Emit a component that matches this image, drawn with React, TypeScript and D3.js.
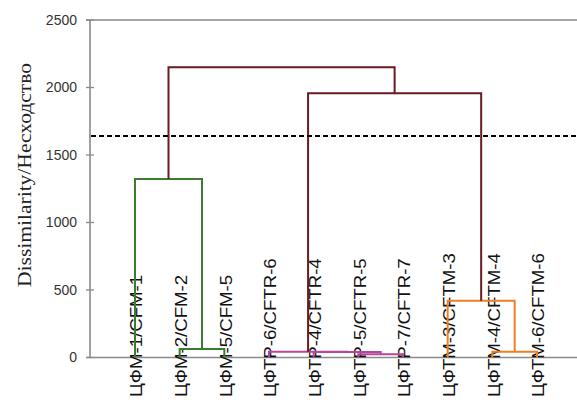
import React from "react";
import * as d3 from "d3";

const leafLabels = [
  "ЦФМ-1/CFM-1",
  "ЦФМ-2/CFM-2",
  "ЦФМ-5/CFM-5",
  "ЦФТР-6/CFTR-6",
  "ЦФТР-4/CFTR-4",
  "ЦФТР-5/CFTR-5",
  "ЦФТР-7/CFTR-7",
  "ЦФТМ-3/CFTM-3",
  "ЦФТМ-4/CFTM-4",
  "ЦФТМ-6/CFTM-6",
];

// linkage steps: node ids 0-9 are leaves, merge i creates node 10+i
const mergeLeft = [5, 8, 4, 3, 1, 7, 0, 13, 16];
const mergeRight = [6, 9, 10, 12, 2, 11, 14, 15, 17];
const mergeHeight = [24, 42, 40, 43, 63, 421, 1322, 1957, 2150];
const mergeCluster = ["C2", "C3", "C2", "C2", "C1", "C3", "C1", "above", "above"];

const yTicks = [0, 500, 1000, 1500, 2000, 2500];
const truncationLevel = 1640;
const yTitle = "Dissimilarity/Несходство";

const W = 577;
const H = 405;
const plotLeft = 90;
const plotRight = 577;
const plotTop = 20;
const plotBottom = 357.5;
const firstLeafX = 135;
const lastLeafX = 537;

const clusterColor: Record<string, string> = {
  C1: "#3a7d2e",
  C2: "#b8449c",
  C3: "#f07f22",
  above: "#6b1a1f",
};

export default function App() {
  const x = d3.scalePoint<string>().domain(leafLabels).range([firstLeafX, lastLeafX]);
  const y = d3.scaleLinear().domain([0, 2500]).range([plotBottom, plotTop]);

  const nodeX: number[] = leafLabels.map((l) => x(l) as number);
  const nodeH: number[] = leafLabels.map(() => 0);
  const links: { d: string; color: string }[] = [];
  mergeLeft.forEach((a, i) => {
    const b = mergeRight[i];
    const h = mergeHeight[i];
    const xa = nodeX[a];
    const xb = nodeX[b];
    const d = `M${xa},${y(nodeH[a])}V${y(h)}H${xb}V${y(nodeH[b])}`;
    links.push({ d, color: clusterColor[mergeCluster[i]] });
    nodeX.push((xa + xb) / 2);
    nodeH.push(h);
  });

  const axisColor = "#8a8a8a";

  return (
    <svg
      width={W}
      height={H}
      style={{ position: "absolute", left: 0, top: 0, background: "#fff" }}
    >
      {/* frame */}
      <line x1={plotLeft - 4} x2={plotRight} y1={y(2500)} y2={y(2500)} stroke={axisColor} strokeWidth={1.6} />
      <line x1={plotLeft - 4} x2={plotRight} y1={y(0)} y2={y(0)} stroke={axisColor} strokeWidth={1.6} />
      <line x1={plotLeft} x2={plotLeft} y1={y(2500)} y2={y(0)} stroke={axisColor} strokeWidth={1.6} />
      {yTicks.map((t) => (
        <g key={t}>
          <line x1={plotLeft - 4} x2={plotLeft + 4} y1={y(t)} y2={y(t)} stroke={axisColor} strokeWidth={1.3} />
          <text
            x={plotLeft - 13}
            y={y(t)}
            dy="0.35em"
            textAnchor="end"
            fontFamily="Liberation Sans, Arial, sans-serif"
            fontSize={14}
            fill="#333"
          >
            {t}
          </text>
        </g>
      ))}
      <text
        transform={`translate(24,175) rotate(-90)`}
        textAnchor="middle"
        dy="0.35em"
        fontFamily="Liberation Serif, Times New Roman, serif"
        fontSize={19}
        fill="#222"
        textLength={224}
        lengthAdjust="spacingAndGlyphs"
      >
        {yTitle}
      </text>

      {/* leaf labels */}
      {leafLabels.map((l) => (
        <text
          key={l}
          transform={`translate(${(x(l) as number) + 1.5},397) rotate(-90) scale(1.13,1)`}
          dy="0.36em"
          textAnchor="start"
          fontFamily="Liberation Sans, Arial, sans-serif"
          fontSize={16.5}
          fill="#111"
        >
          {l}
        </text>
      ))}

      {/* dendrogram links */}
      {links.map((k, i) => (
        <path key={i} d={k.d} fill="none" stroke={k.color} strokeWidth={2} />
      ))}

      {/* truncation line */}
      <line
        x1={plotLeft + 1}
        x2={plotRight}
        y1={y(truncationLevel)}
        y2={y(truncationLevel)}
        stroke="#000"
        strokeWidth={2}
        strokeDasharray="5,3"
      />
    </svg>
  );
}
